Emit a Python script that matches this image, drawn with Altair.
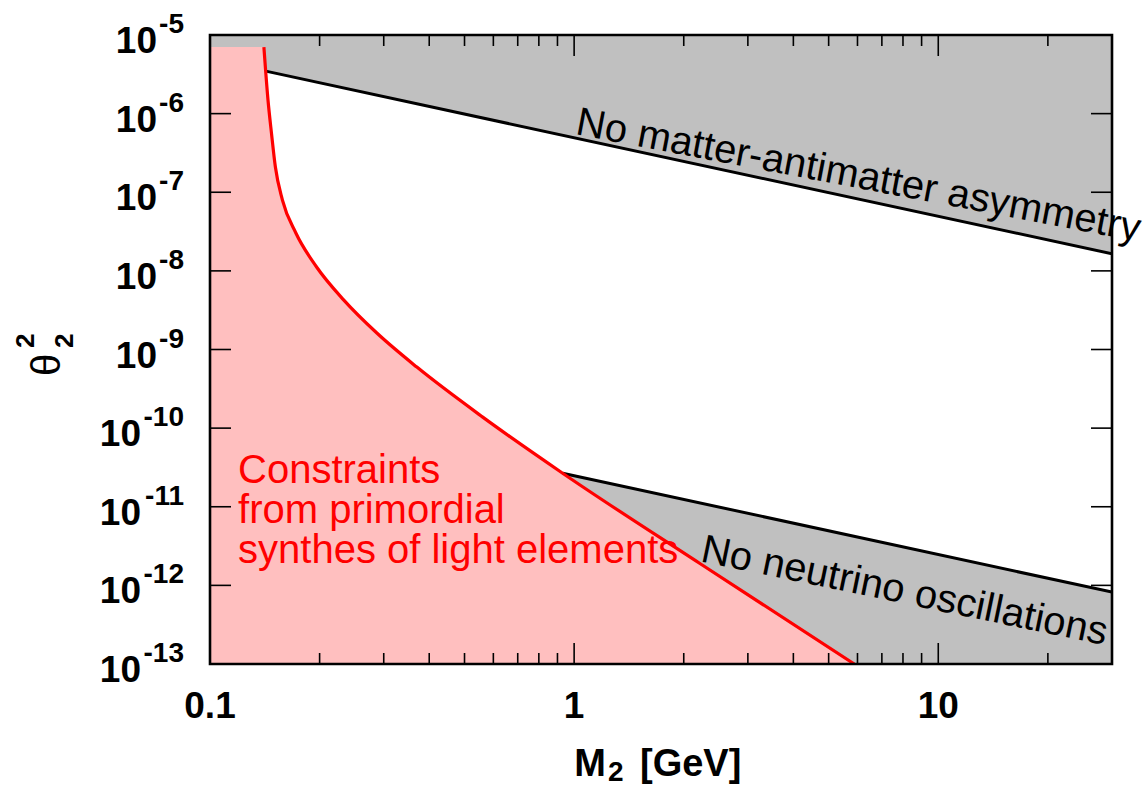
import altair as alt
import pandas as pd

# ---------------------------------------------------------------------------
# Heavy neutral lepton parameter space: mass M2 [GeV] vs mixing theta_2^2
# ---------------------------------------------------------------------------

# Lower bound from Big Bang nucleosynthesis (red curve)
bbn_mass = [0.1406, 0.1443, 0.1475, 0.1512, 0.1581, 0.1721, 0.1962, 0.2331,
            0.2872, 0.3699, 0.561, 0.930, 2.21, 5.88]
bbn_theta2 = [7.03e-6, 1.49e-6, 5.66e-7, 2.09e-7, 7.96e-8, 3.03e-8, 1.12e-8,
              4.25e-9, 1.62e-9, 5.97e-10, 1.38e-10, 2.67e-11, 1.91e-12, 1.0e-13]

# Upper edge: above it no baryon asymmetry is generated
asym_mass = [0.1423, 30.0]
asym_theta2 = [3.47e-6, 1.65e-8]

# Lower edge: below it the seesaw cannot reproduce neutrino oscillations
osc_mass = [0.930, 30.0]
osc_theta2 = [2.67e-11, 8.2e-13]

# Axis ticks
x_major = [0.1, 1, 10]
x_labels = ["0.1", "1", "10"]
x_minor = [0.2, 0.3, 0.4, 0.5, 0.6, 0.7, 0.8, 0.9,
           2, 3, 4, 5, 6, 7, 8, 9, 20]
y_exponents = [-5, -6, -7, -8, -9, -10, -11, -12, -13]

M_MIN, M_MAX = 0.1, 30.0
T_MIN, T_MAX = 1e-13, 1e-5

W, H = 902, 629
FONT = "Liberation Sans"
GRAY = "#c0c0c0"
PINK = "#ffbfbf"
RED = "#ff0000"

xs = alt.Scale(type="log", domain=[M_MIN, M_MAX], nice=False)
ys = alt.Scale(type="log", domain=[T_MIN, T_MAX], nice=False)


def xenc(field="m"):
    return alt.X(f"{field}:Q", scale=xs, axis=None)


def yenc(field="t"):
    return alt.Y(f"{field}:Q", scale=ys, axis=None)


# --- filled regions --------------------------------------------------------
top_gray_df = pd.DataFrame({
    "m": [M_MIN, bbn_mass[0]] + asym_mass,
    "t": [bbn_theta2[0], bbn_theta2[0]] + asym_theta2,
})
top_gray = alt.Chart(top_gray_df).mark_area(color=GRAY, opacity=1, clip=True).encode(
    x=xenc(), y=yenc(), y2=alt.datum(T_MAX)
)

osc_df = pd.DataFrame({"m": osc_mass, "t": osc_theta2})
low_gray = alt.Chart(osc_df).mark_area(color=GRAY, opacity=1, clip=True).encode(
    x=xenc(), y=yenc(), y2=alt.datum(T_MIN)
)

bbn_df = pd.DataFrame({"m": bbn_mass, "t": bbn_theta2})

# flat top of the excluded band, left of where the curve starts
band_df = pd.DataFrame({"m": [M_MIN, bbn_mass[0] * 1.003],
                        "t": [bbn_theta2[0], bbn_theta2[0]]})
pink_band = alt.Chart(band_df).mark_area(color=PINK, opacity=1, clip=True).encode(
    x=xenc(), y=yenc(), y2=alt.datum(T_MIN)
)
pink = alt.Chart(bbn_df).mark_area(
    color=PINK, opacity=1, clip=True, interpolate="monotone").encode(
    x=xenc(), y=yenc(), y2=alt.datum(T_MIN)
)

# --- boundary lines --------------------------------------------------------
asym_line = alt.Chart(pd.DataFrame({"m": asym_mass, "t": asym_theta2})).mark_line(
    color="black", strokeWidth=3, clip=True).encode(x=xenc(), y=yenc())
osc_line = alt.Chart(osc_df).mark_line(
    color="black", strokeWidth=3, clip=True).encode(x=xenc(), y=yenc())
bbn_line = alt.Chart(bbn_df).mark_line(
    color=RED, strokeWidth=3.2, clip=True, interpolate="monotone").encode(
    x=xenc(), y=yenc())

# --- region annotations ----------------------------------------------------
ann_df = pd.DataFrame({
    "m": [1.003, 2.21],
    "t": [5.5e-7, 2.03e-12],
    "label": ["No matter-antimatter asymmetry", "No neutrino oscillations"],
})
asym_text = alt.Chart(ann_df.iloc[[0]]).mark_text(
    font=FONT, fontSize=40, align="left", baseline="alphabetic", angle=10.8,
    color="black").encode(x=xenc(), y=yenc(), text="label:N")
osc_text = alt.Chart(ann_df.iloc[[1]]).mark_text(
    font=FONT, fontSize=40, align="left", baseline="alphabetic", angle=11.7,
    color="black").encode(x=xenc(), y=yenc(), text="label:N")

bbn_text_df = pd.DataFrame({
    "m": [0.1194], "t": [2.0e-11],
    "label": ["Constraints\nfrom primordial\nsynthes of light elements"],
})
bbn_text = alt.Chart(bbn_text_df).mark_text(
    font=FONT, fontSize=40, align="left", baseline="alphabetic",
    lineBreak="\n", lineHeight=40, color=RED).encode(
    x=xenc(), y=yenc(), text="label:N")

# --- ticks (inward, mirrored on all sides) ---------------------------------
xmaj_df = pd.DataFrame({"m": x_major, "label": x_labels})
xmin_df = pd.DataFrame({"m": x_minor})
ymaj_df = pd.DataFrame({"t": [10.0 ** e for e in y_exponents],
                        "exp": [str(e) for e in y_exponents]})

MAJ, MIN = 21, 11
tick_style = dict(color="black", strokeWidth=1.6)

ticks = [
    alt.Chart(xmaj_df).mark_rule(**tick_style).encode(
        x=xenc(), y=alt.value(H), y2=alt.value(H - MAJ)),
    alt.Chart(xmaj_df).mark_rule(**tick_style).encode(
        x=xenc(), y=alt.value(0), y2=alt.value(MAJ)),
    alt.Chart(xmin_df).mark_rule(**tick_style).encode(
        x=xenc(), y=alt.value(H), y2=alt.value(H - MIN)),
    alt.Chart(xmin_df).mark_rule(**tick_style).encode(
        x=xenc(), y=alt.value(0), y2=alt.value(MIN)),
    alt.Chart(ymaj_df).mark_rule(**tick_style).encode(
        y=yenc(), x=alt.value(0), x2=alt.value(MAJ)),
    alt.Chart(ymaj_df).mark_rule(**tick_style).encode(
        y=yenc(), x=alt.value(W), x2=alt.value(W - MAJ)),
]

one = pd.DataFrame({"k": [0]})
frame = alt.Chart(one).mark_rect(filled=False, stroke="black", strokeWidth=2.6).encode(
    x=alt.value(0), x2=alt.value(W), y=alt.value(0), y2=alt.value(H))

# --- tick labels -----------------------------------------------------------
x_tick_labels = alt.Chart(xmaj_df).mark_text(
    font=FONT, fontSize=37, fontWeight="bold", align="center",
    baseline="alphabetic").encode(x=xenc(), y=alt.value(H + 54), text="label:N")

short_exp = ymaj_df[ymaj_df["exp"].str.len() == 2]
long_exp = ymaj_df[ymaj_df["exp"].str.len() == 3]
base_style = dict(font=FONT, fontSize=37, fontWeight="bold", align="right",
                  baseline="alphabetic", dy=18)
y_base_short = alt.Chart(short_exp).mark_text(**base_style).encode(
    y=yenc(), x=alt.value(-53), text=alt.value("10"))
y_base_long = alt.Chart(long_exp).mark_text(**base_style).encode(
    y=yenc(), x=alt.value(-69), text=alt.value("10"))
y_exp = alt.Chart(ymaj_df).mark_text(
    font=FONT, fontSize=28, fontWeight="bold", align="right",
    baseline="alphabetic", dy=-2).encode(
    y=yenc(), x=alt.value(-26), text="exp:N")

# --- axis titles -----------------------------------------------------------
title_bold = dict(font=FONT, fontWeight="bold", baseline="alphabetic")
x_title = [
    alt.Chart(one).mark_text(fontSize=38, align="right", **title_bold).encode(
        x=alt.value(396), y=alt.value(741), text=alt.value("M")),
    alt.Chart(one).mark_text(fontSize=28, align="left", **title_bold).encode(
        x=alt.value(398), y=alt.value(746), text=alt.value("2")),
    alt.Chart(one).mark_text(fontSize=38, align="left", **title_bold).encode(
        x=alt.value(430), y=alt.value(741), text=alt.value("[GeV]")),
]
y_title = [
    alt.Chart(one).mark_text(font=FONT, fontSize=40, align="left",
                             baseline="alphabetic", angle=270).encode(
        x=alt.value(-150), y=alt.value(341), text=alt.value("θ")),
    alt.Chart(one).mark_text(fontSize=26, align="left", angle=270, **title_bold).encode(
        x=alt.value(-137), y=alt.value(313), text=alt.value("2")),
    alt.Chart(one).mark_text(fontSize=26, align="left", angle=270, **title_bold).encode(
        x=alt.value(-176), y=alt.value(313), text=alt.value("2")),
]

chart = alt.layer(
    top_gray, low_gray, pink_band, pink,
    asym_line, osc_line, bbn_line,
    asym_text, osc_text, bbn_text,
    *ticks, frame,
    x_tick_labels, y_base_short, y_base_long, y_exp,
    *x_title, *y_title,
).properties(
    width=W, height=H,
    padding={"left": 210, "top": 35, "right": 33, "bottom": 122},
    autosize=alt.AutoSizeParams(type="none"),
).configure_view(stroke=None)

chart.save("out.html", embed_options={"renderer": "svg", "actions": False})
